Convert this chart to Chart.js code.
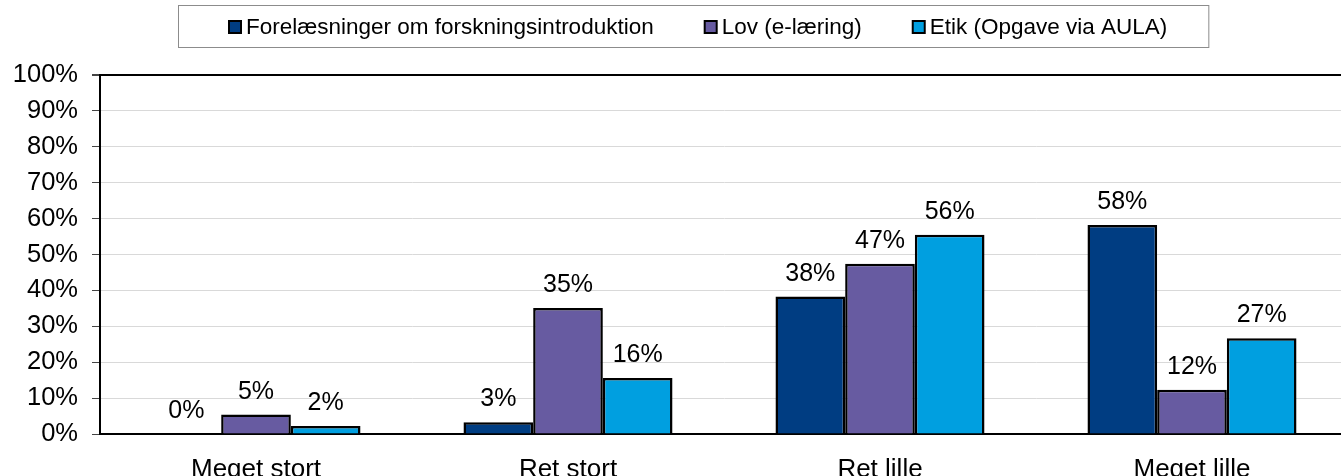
<!DOCTYPE html>
<html>
<head>
<meta charset="utf-8">
<script src="https://cdn.jsdelivr.net/npm/chart.js@4/dist/chart.umd.min.js"></script>
<style>
  html, body { margin: 0; padding: 0; background: #fff; overflow: hidden; }
  #wrap { width: 1348px; height: 476px; }
</style>
</head>
<body>
<div id="wrap"><canvas id="barChart" width="1348" height="476"></canvas></div>
<script>
const CATEGORIES = ['Meget stort', 'Ret stort', 'Ret lille', 'Meget lille'];
const SERIES_NAMES = ['Forelæsninger om forskningsintroduktion', 'Lov (e-læring)', 'Etik (Opgave via AULA)'];
const FORELAESNINGER = [0, 3.3, 38.3, 58.2];
const LOV = [5.4, 35.1, 47.4, 12.3];
const ETIK = [2.2, 15.6, 55.5, 26.7];
const Y_TICKS = [0, 10, 20, 30, 40, 50, 60, 70, 80, 90, 100];

const COLORS = ['#003d82', '#675ba1', '#009fe0'];
const FONT = '"Liberation Sans", Arial, sans-serif';

// labels over each bar
const valueLabels = {
    id: 'valueLabels',
    afterDatasetsDraw(chart) {
        const ctx = chart.ctx;
        ctx.save();
        ctx.font = '25px ' + FONT;
        ctx.fillStyle = '#000';
        ctx.textAlign = 'center';
        ctx.textBaseline = 'alphabetic';
        chart.data.datasets.forEach((ds, i) => {
            chart.getDatasetMeta(i).data.forEach((bar, j) => {
                ctx.fillText(Math.round(ds.data[j]) + '%', bar.x, bar.y - 16);
            });
        });
        ctx.restore();
    }
};

// boxed legend on top
const boxLegend = {
    id: 'boxLegend',
    afterDraw(chart) {
        const ctx = chart.ctx;
        ctx.save();
        ctx.font = '22.5px ' + FONT;
        ctx.textBaseline = 'middle';
        let x = 229;
        const y = 27;
        chart.data.datasets.forEach((ds, i) => {
            ctx.fillStyle = COLORS[i];
            ctx.fillRect(x, y - 6, 12, 12);
            ctx.strokeStyle = '#000';
            ctx.lineWidth = 2;
            ctx.strokeRect(x, y - 6, 12, 12);
            ctx.fillStyle = '#000';
            ctx.fillText(ds.label, x + 17, y + 1);
            x += 17 + ctx.measureText(ds.label).width + 51;
        });
        const right = x - 51 + 41;
        ctx.strokeStyle = '#8c8c8c';
        ctx.lineWidth = 1;
        ctx.strokeRect(178.5, 5.5, right - 178, 42);
        ctx.restore();
    }
};

const datasets = [FORELAESNINGER, LOV, ETIK].map((vals, i) => ({
    label: SERIES_NAMES[i],
    data: vals,
    backgroundColor: COLORS[i],
    borderColor: '#000',
    borderWidth: 2.5,
    borderSkipped: 'bottom',
    categoryPercentage: 0.67,
    barPercentage: 1.0
}));

new Chart(document.getElementById('barChart').getContext('2d'), {
    type: 'bar',
    data: { labels: CATEGORIES, datasets: datasets },
    options: {
        responsive: false,
        animation: false,
        layout: { padding: { top: 75, left: 0, right: 0, bottom: 0 } },
        plugins: {
            legend: { display: false },
            tooltip: { enabled: false }
        },
        scales: {
            x: {
                afterFit: s => { s.height = 42; },
                grid: { display: false },
                border: { display: true, color: '#000', width: 2 },
                ticks: { color: '#000', font: { family: FONT, size: 26 }, padding: 12, maxRotation: 0 }
            },
            y: {
                min: 0,
                max: 100,
                afterFit: s => { s.width = 100; },
                afterBuildTicks: s => { s.ticks = Y_TICKS.map(v => ({ value: v })); },
                grid: {
                    color: c => c.tick && c.tick.value === 100 ? '#000' : '#d9d9d9',
                    lineWidth: c => c.tick && c.tick.value === 100 ? 2 : 1,
                    tickColor: '#444',
                    tickLength: 8
                },
                border: { display: true, color: '#000', width: 2 },
                ticks: {
                    color: '#000',
                    font: { family: FONT, size: 25.5 },
                    padding: 14,
                    callback: v => v + '%'
                }
            }
        }
    },
    plugins: [valueLabels, boxLegend]
});
</script>
</body>
</html>
